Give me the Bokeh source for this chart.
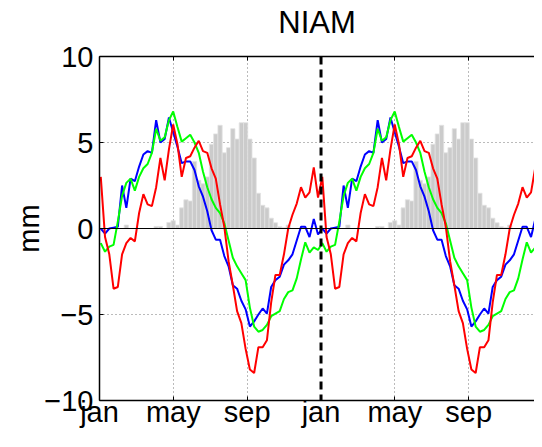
import numpy as np
from bokeh.plotting import figure
from bokeh.models import Range1d, FixedTicker, Span, LinearAxis
from bokeh.embed import file_html
from bokeh.resources import INLINE

# ---- data (one year of weekly values, shown twice) ----
weeks = list(range(52))
red = [3.0, -0.5, -1.5, -3.5, -3.4, -1.5, -0.85, -0.55, -0.75, 0.9,
       2.0, 1.4, 1.3, 2.4, 4.1, 2.8, 4.6, 6.05, 4.9, 3.0,
       4.1, 4.2, 4.7, 5.1, 4.5, 4.4, 3.5, 2.9, 1.4, 0.1,
       -1.9, -3.3, -4.8, -5.5, -7.0, -8.2, -8.4, -6.9, -6.9, -6.5,
       -4.3, -2.7, -2.7, -1.5, 0.0, 0.8, 1.45, 2.4, 1.8, 2.1,
       3.55, 1.8]
blue = [0.0, -0.3, 0.0, 0.05, 0.1, 2.5, 1.2, 2.9, 2.75, 3.6,
        4.3, 4.5, 4.4, 6.3, 5.0, 5.2, 6.45, 5.6, 4.75, 3.8,
        3.9, 3.9, 3.4, 2.45, 1.85, 1.0, -0.1, -0.65, -0.65, -1.6,
        -2.2, -3.3, -3.5, -4.2, -4.7, -5.7, -5.4, -5.0, -4.65, -4.95,
        -3.4, -3.0, -2.8, -2.1, -1.85, -1.5, -0.7, 0.1, 0.1, -0.5,
        0.55, -0.35]
green = [-0.85, -1.35, -1.05, -0.95, 0.4, 1.9, 2.65, 2.9, 2.2, 3.0,
         3.5, 3.75, 4.4, 5.8, 5.1, 5.3, 6.3, 6.8, 5.9, 5.05,
         5.25, 5.45, 5.0, 4.4, 3.3, 2.4, 1.7, 1.2, 0.9, 0.3,
         -0.7, -1.7, -2.2, -2.6, -3.0, -4.6, -5.7, -6.0, -5.9, -5.6,
         -5.1, -4.95, -4.8, -4.1, -3.7, -3.6, -2.9, -1.8, -0.8, -1.4,
         -1.1, -1.25]
bars = [0, 0, 0, 0, 0, 0, 0.2, 0, 0, 0,
        0, 0, 0, 0.12, 0.12, 0, 0.35, 0.45, 0.2, 1.2,
        1.67, 1.6, 3.9, 2.8, 2.6, 3.0, 4.9, 5.5, 6.0, 4.4,
        4.7, 5.8, 5.2, 6.15, 6.15, 5.2, 4.1, 2.05, 1.35, 1.2,
        0.6, 0.33, 0.1, 0.05, 0.2, 0, 0, 0, 0, 0,
        0, 0]

title_text = "NIAM"
tick_months = [0, 4, 8, 12, 16, 20]
tick_labels = ["jan", "may", "sep", "jan", "may", "sep"]
ytick_vals = [-10, -5, 0, 5, 10]
ytick_labels = ["\u221210", "\u22125", "0", "5", "10"]

# two years, weekly positions expressed in months
wk = np.array(weeks, dtype=float) + 0.3
x1 = wk * 12.0 / 52.0
x = np.concatenate([x1, x1 + 12.0])
red2 = red + red
blue2 = blue + blue
green2 = green + green
bars2 = bars + bars

FONT = "Liberation Sans"

LEFT = 99
W = 534
p = figure(width=W, height=431, x_range=Range1d(0, (W - LEFT) / 18.46), y_range=Range1d(-10, 10),
           output_backend="svg", toolbar_location=None,
           min_border_left=LEFT, min_border_right=0, min_border_top=56, min_border_bottom=31)
p.outline_line_color = None
p.background_fill_color = "white"
p.border_fill_color = "white"

# grids
p.xgrid.ticker = FixedTicker(ticks=[4, 8, 16, 20])
p.ygrid.ticker = FixedTicker(ticks=[-5, 5])
for g in (p.xgrid, p.ygrid):
    g.grid_line_color = "#777777"
    g.grid_line_dash = "1 3"
    g.grid_line_width = 1

# bars
p.vbar(x=x, top=bars2, bottom=0, width=12.0 / 52.0,
       fill_color="#cbcbcb", line_color="#e2e2e2", line_width=0.8)

zero = Span(location=0, dimension="width", line_color="black", line_width=1.1, level="glyph")
p.add_layout(zero)

p.line(x, blue2, line_color="#0000ff", line_width=2)
p.line(x, green2, line_color="#00ff00", line_width=2)
p.line(x, red2, line_color="#ff0000", line_width=2)

jan = Span(location=12, dimension="height", line_color="black", line_width=3, line_dash="8 5")
p.add_layout(jan)

# axes
p.xaxis.ticker = FixedTicker(ticks=tick_months)
p.xaxis.major_label_overrides = {k: v for k, v in zip(tick_months, tick_labels)}
p.yaxis.ticker = FixedTicker(ticks=ytick_vals)
p.yaxis.major_label_overrides = {k: v for k, v in zip(ytick_vals, ytick_labels)}
p.yaxis.axis_label = "mm"

for ax in (p.xaxis[0], p.yaxis[0]):
    ax.axis_line_color = "black"
    ax.axis_line_width = 1.5
    ax.major_tick_in = 4
    ax.major_tick_out = 0
    ax.minor_tick_line_color = None
    ax.major_tick_line_color = "black"
    ax.major_tick_line_width = 1
    ax.major_label_text_font = FONT
    ax.major_label_text_font_size = "29px"
    ax.major_label_text_color = "black"
    ax.axis_label_text_font = FONT
    ax.axis_label_text_font_size = "29px"
    ax.axis_label_text_font_style = "normal"
    ax.axis_label_text_color = "black"

p.xaxis.major_label_standoff = -5
p.yaxis.major_label_standoff = 6
p.yaxis.axis_label_standoff = -4

# top frame edge with inward ticks; carries the chart title as its label
top = LinearAxis(ticker=FixedTicker(ticks=tick_months), major_label_text_font_size="0px",
                 major_label_overrides={k: "" for k in tick_months},
                 major_label_standoff=0, major_tick_in=4, major_tick_out=0,
                 minor_tick_line_color=None, axis_line_width=1.5,
                 axis_label=title_text, axis_label_standoff=17,
                 axis_label_text_font=FONT, axis_label_text_font_size="31px",
                 axis_label_text_font_style="normal", axis_label_text_color="black")
p.add_layout(top, "above")

open("out.html", "w").write(file_html(p, INLINE))
